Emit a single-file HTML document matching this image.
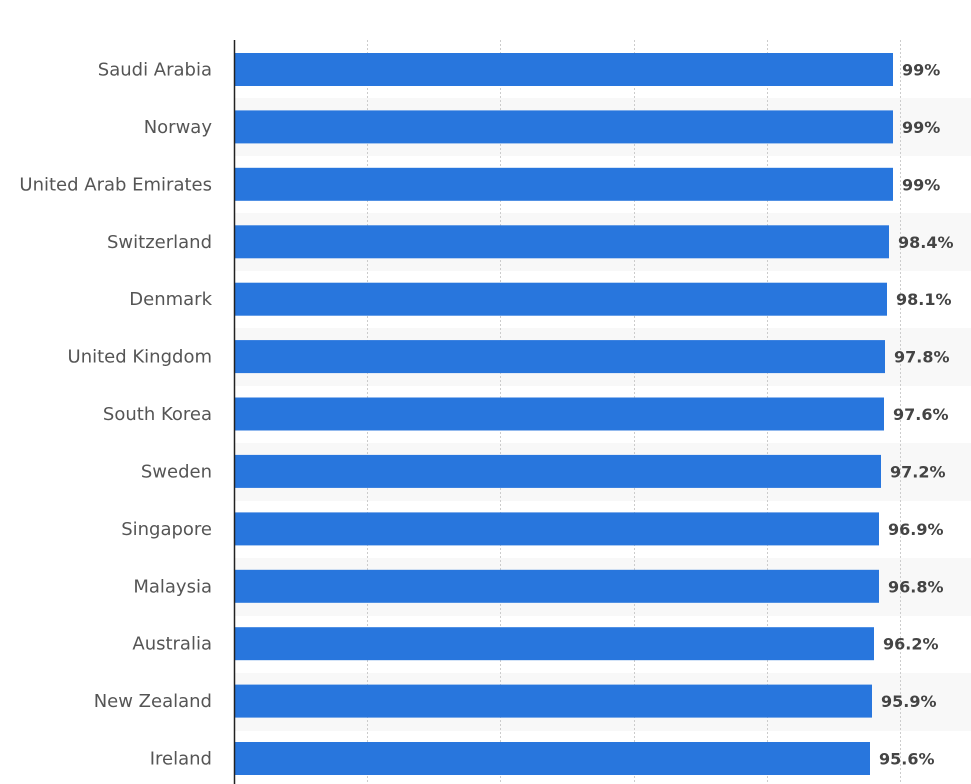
<!DOCTYPE html>
<html><head><meta charset="utf-8"><style>
html,body{margin:0;padding:0;background:#fff;width:971px;height:784px;overflow:hidden}
</style></head><body>
<svg width="971" height="784" xmlns="http://www.w3.org/2000/svg" font-family="DejaVu Sans, sans-serif">
<g id="bands" fill="#f8f8f8">
<rect x="235" y="98" width="736" height="58"/>
<rect x="235" y="213" width="736" height="58"/>
<rect x="235" y="328" width="736" height="58"/>
<rect x="235" y="443" width="736" height="58"/>
<rect x="235" y="558" width="736" height="58"/>
<rect x="235" y="673" width="736" height="58"/>
</g>
<g stroke="#cccccc" stroke-width="1" stroke-dasharray="2,2">
<line x1="367.5" y1="40" x2="367.5" y2="784"/>
<line x1="500.5" y1="40" x2="500.5" y2="784"/>
<line x1="634.5" y1="40" x2="634.5" y2="784"/>
<line x1="767.5" y1="40" x2="767.5" y2="784"/>
<line x1="900.5" y1="40" x2="900.5" y2="784"/>
</g>
<g fill="#2876dd">
<rect x="235" y="53" width="658" height="33"/>
<rect x="235" y="110.4" width="658" height="33"/>
<rect x="235" y="167.8" width="658" height="33"/>
<rect x="235" y="225.3" width="654" height="33"/>
<rect x="235" y="282.7" width="652" height="33"/>
<rect x="235" y="340.1" width="650" height="33"/>
<rect x="235" y="397.5" width="649" height="33"/>
<rect x="235" y="454.9" width="646" height="33"/>
<rect x="235" y="512.4" width="644" height="33"/>
<rect x="235" y="569.8" width="644" height="33"/>
<rect x="235" y="627.2" width="639" height="33"/>
<rect x="235" y="684.6" width="637" height="33"/>
<rect x="235" y="742" width="635" height="33"/>
</g>
<line x1="234.5" y1="40" x2="234.5" y2="784" stroke="#222" stroke-width="1.5"/>
<g fill="#555" font-size="18" text-anchor="end">
<text x="212" y="75.5">Saudi Arabia</text>
<text x="212" y="132.9">Norway</text>
<text x="212" y="190.3">United Arab Emirates</text>
<text x="212" y="247.8">Switzerland</text>
<text x="212" y="305.2">Denmark</text>
<text x="212" y="362.6">United Kingdom</text>
<text x="212" y="420">South Korea</text>
<text x="212" y="477.4">Sweden</text>
<text x="212" y="534.9">Singapore</text>
<text x="212" y="592.3">Malaysia</text>
<text x="212" y="649.7">Australia</text>
<text x="212" y="707.1">New Zealand</text>
<text x="212" y="764.5">Ireland</text>
</g>
<g fill="#444" font-size="16" font-weight="bold">
<text x="902" y="75.5">99%</text>
<text x="902" y="132.9">99%</text>
<text x="902" y="190.3">99%</text>
<text x="898" y="247.8">98.4%</text>
<text x="896" y="305.2">98.1%</text>
<text x="894" y="362.6">97.8%</text>
<text x="893" y="420">97.6%</text>
<text x="890" y="477.4">97.2%</text>
<text x="888" y="534.9">96.9%</text>
<text x="888" y="592.3">96.8%</text>
<text x="883" y="649.7">96.2%</text>
<text x="881" y="707.1">95.9%</text>
<text x="879" y="764.5">95.6%</text>
</g>
</svg>
</body></html>
